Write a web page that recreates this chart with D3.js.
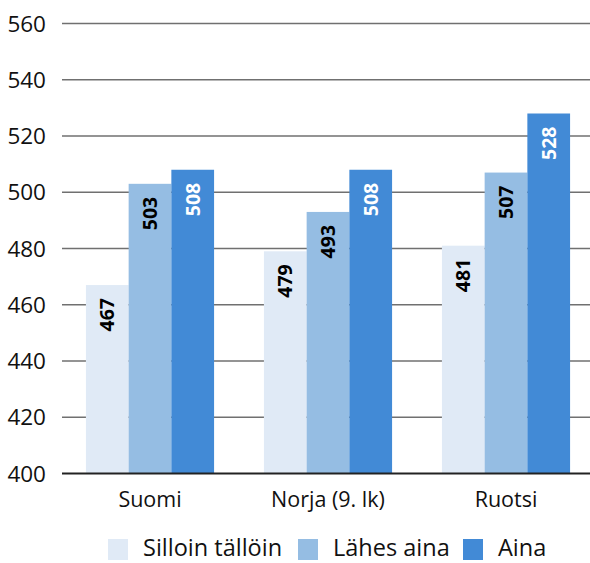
<!DOCTYPE html>
<html>
<head>
<meta charset="utf-8">
<script src="https://cdn.jsdelivr.net/npm/d3@7"></script>
<style>
  html, body { margin: 0; padding: 0; background: #fff; }
  svg { display: block; font-family: "Open Sans", "Noto Sans", sans-serif; }
</style>
</head>
<body>
<svg id="chart" width="590" height="563"></svg>
<script>
// Countries and response groups
const countries = ["Suomi", "Norja (9. lk)", "Ruotsi"];
const seriesNames = ["Silloin tällöin", "Lähes aina", "Aina"];
const seriesColors = ["#e0eaf6", "#95bde3", "#428ad6"];
const labelColors = ["#000", "#000", "#fff"];

// Mean scores per group
const sillointallion = [467, 479, 481];
const lahesAina = [503, 493, 507];
const aina = [508, 508, 528];

const yTicks = [400, 420, 440, 460, 480, 500, 520, 540, 560];

const seriesValues = [sillointallion, lahesAina, aina];
const rows = countries.map((c, i) => ({
  country: c,
  values: seriesNames.map((s, j) => ({ key: s, idx: j, value: seriesValues[j][i] }))
}));

const svg = d3.select("#chart");
const left = 62, right = 590;

const y = d3.scaleLinear().domain([400, 560]).range([473.5, 23.5]);
const x0 = d3.scaleBand().domain(countries).range([61, 595]).paddingInner(0).paddingOuter(0);
const x1 = d3.scaleBand().domain(seriesNames)
  .range([x0.bandwidth() * 0.14, x0.bandwidth() * 0.86]).padding(0);

// Gridlines
svg.append("g").selectAll("line")
  .data(yTicks.filter(t => t > 400))
  .join("line")
  .attr("x1", left).attr("x2", right)
  .attr("y1", d => y(d)).attr("y2", d => y(d))
  .attr("stroke", "#707070").attr("stroke-width", 1.4);

// Y tick labels
svg.append("g").selectAll("text")
  .data(yTicks)
  .join("text")
  .attr("x", 46).attr("y", d => y(d))
  .attr("dy", "0.36em")
  .attr("text-anchor", "end")
  .attr("font-size", 22.5)
  .attr("fill", "#111")
  .text(d => d);

// Bars
const groups = svg.append("g").selectAll("g")
  .data(rows)
  .join("g")
  .attr("transform", d => `translate(${x0(d.country)},0)`);

groups.selectAll("rect")
  .data(d => d.values)
  .join("rect")
  .attr("x", d => x1(d.key))
  .attr("width", x1.bandwidth())
  .attr("y", d => y(d.value))
  .attr("height", d => y(400) - y(d.value))
  .attr("fill", d => seriesColors[d.idx]);

// Value labels, rotated inside the bar tops
groups.selectAll("text")
  .data(d => d.values)
  .join("text")
  .attr("transform", d => `translate(${x1(d.key) + x1.bandwidth() / 2},${y(d.value) + 13}) rotate(-90)`)
  .attr("text-anchor", "end")
  .attr("dy", "0.36em")
  .attr("font-size", 19.5)
  .attr("font-weight", "bold")
  .attr("fill", d => labelColors[d.idx])
  .text(d => d.value);

// Baseline axis
svg.append("line")
  .attr("x1", left).attr("x2", right)
  .attr("y1", y(400)).attr("y2", y(400))
  .attr("stroke", "#222").attr("stroke-width", 2.2);

// Category labels
svg.append("g").selectAll("text")
  .data(countries)
  .join("text")
  .attr("x", d => x0(d) + x0.bandwidth() / 2)
  .attr("y", 507)
  .attr("text-anchor", "middle")
  .attr("font-size", 21.5)
  .attr("fill", "#111")
  .text(d => d);

// Legend
const legendX = [108, 298, 463];
const legend = svg.append("g").selectAll("g")
  .data(seriesNames)
  .join("g")
  .attr("transform", (d, i) => `translate(${legendX[i]},539)`);
legend.append("rect")
  .attr("width", 20).attr("height", 21)
  .attr("fill", (d, i) => seriesColors[i]);
legend.append("text")
  .attr("x", 35).attr("y", 17)
  .attr("font-size", 23.5)
  .attr("fill", "#111")
  .text(d => d);
</script>
</body>
</html>
